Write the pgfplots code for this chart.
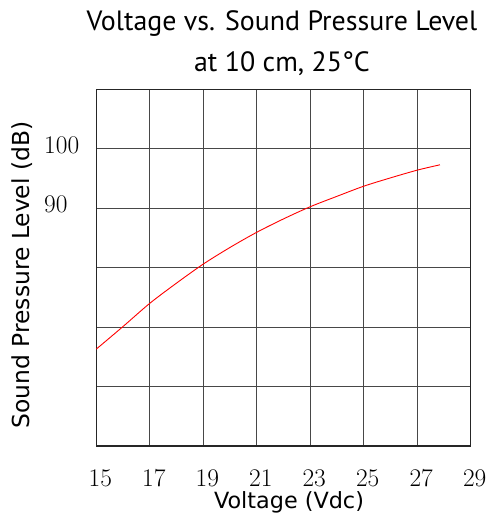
\documentclass[border=0pt]{standalone}
\usepackage{pgfplots}
\pgfplotsset{compat=1.18}
\usepackage{fontspec}
\newfontfamily\titlefont{PT Sans}
\newfontfamily\labelfont{DejaVu Sans}
\begin{document}
\begin{tikzpicture}
\useasboundingbox (-96.3bp,-76bp) rectangle (392.7bp,446bp);
\begin{axis}[
  at={(0,0)}, anchor=south west,
  scale only axis,
  width=374.4bp, height=356.7bp,
  xmin=15, xmax=29, ymin=50, ymax=110,
  xtick={15,17,...,29},
  ytick={50,60,...,110},
  yticklabels={,,,,90,100,},
  /pgf/number format/assume math mode=true,
  major tick length=0pt,
  grid=major,
  major grid style={line width=1bp, black!72},
  axis line style={line width=1.2bp, black!85},
  xticklabel style={font=\rmfamily\fontsize{25.5}{28}\selectfont, anchor=base, yshift=-40.7bp, xshift=4bp, inner sep=0pt},
  yticklabel style={font=\rmfamily\fontsize{25.5}{28}\selectfont, anchor=west, xshift=-52.3bp, yshift=3.5bp, inner sep=0pt},
  clip=false,
]
\addplot[red, line width=0.9bp, smooth] coordinates {
  (15,66.3) (16,70.1) (17,74.0) (18,77.4) (19,80.6) (20,83.4) (21,85.95)
  (22,88.2) (23,90.25) (24,92.0) (25,93.7) (26,95.1) (27,96.4) (27.85,97.3)
};
\end{axis}
\node[anchor=base, font=\titlefont\fontsize{28}{30}\selectfont] at (185.7bp,415.3bp) {Voltage vs. Sound Pressure Level};
\node[anchor=base, font=\titlefont\fontsize{28}{30}\selectfont] at (185.7bp,374.3bp) {at 10 cm, 25°C};
\node[anchor=base, font=\labelfont\fontsize{22.4}{26}\selectfont] at (192.7bp,-62bp) {Voltage (Vdc)};
\node[rotate=90, anchor=center, font=\labelfont\fontsize{23.5}{26}\selectfont] at (-73.8bp,171bp) {Sound Pressure Level (dB)};
\end{tikzpicture}
\end{document}
